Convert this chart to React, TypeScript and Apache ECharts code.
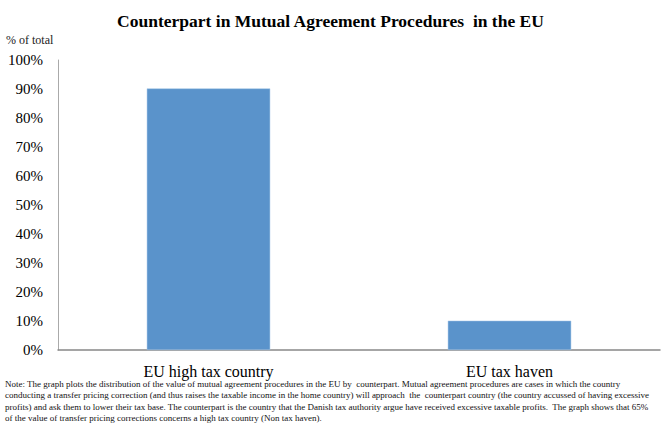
import React, { useEffect, useRef } from "react";
import * as echarts from "echarts";

const categories = ["EU high tax country", "EU tax haven"];
const shares = [90.2, 10.1];
const yTicks = [0, 10, 20, 30, 40, 50, 60, 70, 80, 90, 100];
const titleText = "Counterpart in Mutual Agreement Procedures  in the EU";
const yName = "% of total";
const noteLines = [
  "Note: The graph plots the distribution of the value of mutual agreement procedures in the EU by  counterpart. Mutual agreement procedures are cases in which the country",
  "conducting a transfer pricing correction (and thus raises the taxable income in the home country) will approach  the  counterpart country (the country accussed of having excessive",
  "profits) and ask them to lower their tax base. The counterpart is the country that the Danish tax authority argue have received excessive taxable profits.  The graph shows that 65%",
  "of the value of transfer pricing corrections concerns a high tax country (Non tax haven).",
];

const FONT = "'Liberation Serif', 'DejaVu Serif', serif";

export default function App() {
  const ref = useRef<HTMLDivElement>(null);
  useEffect(() => {
    if (!ref.current) return;
    const chart = echarts.init(ref.current, null, { renderer: "svg" });
    chart.setOption({
      animation: false,
      backgroundColor: "#ffffff",
      textStyle: { fontFamily: FONT },
      title: {
        text: titleText,
        left: "center",
        top: 7,
        textStyle: { fontFamily: FONT, fontSize: 17.5, fontWeight: "bold", color: "#000" },
      },
      grid: { left: 58, right: 1, top: 60, bottom: 73 },
      xAxis: {
        type: "category",
        data: categories,
        axisLine: { lineStyle: { color: "#888", width: 1.5 } },
        axisTick: { show: false },
        axisLabel: { fontFamily: FONT, fontSize: 16, color: "#000", margin: 13 },
      },
      yAxis: {
        type: "value",
        min: yTicks[0],
        max: yTicks[yTicks.length - 1],
        interval: 10,
        axisLine: { show: true, lineStyle: { color: "#aaa", width: 1 } },
        axisTick: { show: false },
        splitLine: { show: false },
        axisLabel: {
          fontFamily: FONT,
          fontSize: 15,
          color: "#000",
          margin: 15,
          formatter: (v: number) => `${v}%`,
        },
      },
      series: [
        {
          type: "bar",
          data: shares,
          barCategoryGap: "59%",
          itemStyle: { color: "#5a93cb", borderColor: "#a9c8e8", borderWidth: 0.5 },
        },
      ],
      graphic: [
        {
          type: "text",
          left: 6,
          top: 34,
          style: { text: yName, fontFamily: FONT, fontSize: 12, fill: "#222" },
        },
        {
          type: "text",
          left: 5,
          top: 378,
          style: {
            text: noteLines.join("\n"),
            fontFamily: FONT,
            fontSize: 9,
            lineHeight: 11.4,
            fill: "#111",
          },
        },
      ],
    });
    return () => chart.dispose();
  }, []);
  return <div ref={ref} style={{ width: 661, height: 423, position: "absolute", left: 0, top: 0 }} />;
}
